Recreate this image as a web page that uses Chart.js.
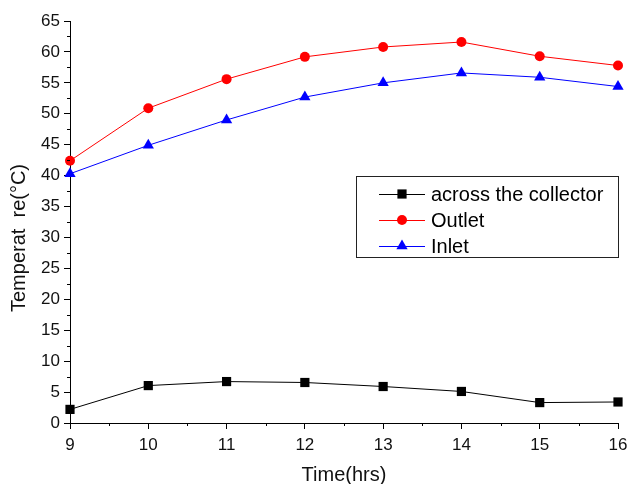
<!DOCTYPE html>
<html>
<head>
<meta charset="utf-8">
<script src="https://cdn.jsdelivr.net/npm/chart.js@4/dist/chart.umd.min.js"></script>
<style>
  html, body { margin: 0; padding: 0; background: #fff; }
  #wrap { width: 628px; height: 484px; }
</style>
</head>
<body>
<div id="wrap"><canvas id="chart" width="628" height="484"></canvas></div>
<script>
const hours = [9, 10, 11, 12, 13, 14, 15, 16];
const acrossCollector = [2.2, 6.05, 6.7, 6.55, 5.9, 5.1, 3.3, 3.4];
const outlet = [42.4, 50.9, 55.6, 59.2, 60.8, 61.6, 59.3, 57.8];
const inlet = [40.3, 44.9, 49.0, 52.7, 55.0, 56.6, 55.9, 54.4];
const yTicks = [0, 5, 10, 15, 20, 25, 30, 35, 40, 45, 50, 55, 60, 65];
const xTitle = 'Time(hrs)';
const yTitle = 'Temperat  re(°C)';

const FONT = '"Liberation Sans", Arial, sans-serif';

const toPoints = values => hours.map((h, i) => ({ x: h, y: values[i] }));

const series = [
  { label: 'across the collector', data: acrossCollector, color: '#000000', style: 'rect', radius: 6.5 },
  { label: 'Outlet', data: outlet, color: '#ff0000', style: 'circle', radius: 5 },
  { label: 'Inlet', data: inlet, color: '#0000ff', style: 'triangle', radius: 6.5 },
];

// minor ticks half way between the major ones, drawn outward like Origin does
const minorTicks = {
  id: 'minor_ticks',
  afterDraw: chart => {
    const ctx = chart.ctx;
    const x = chart.scales.x;
    const y = chart.scales.y;
    ctx.save();
    ctx.strokeStyle = '#000';
    ctx.lineWidth = 1;
    ctx.beginPath();
    for (let i = 0; i < hours.length - 1; i++) {
      const px = Math.round(x.getPixelForValue((hours[i] + hours[i + 1]) / 2)) + 0.5;
      ctx.moveTo(px, y.bottom);
      ctx.lineTo(px, y.bottom + 3);
    }
    for (let i = 0; i < yTicks.length - 1; i++) {
      const py = Math.round(y.getPixelForValue((yTicks[i] + yTicks[i + 1]) / 2)) + 0.5;
      ctx.moveTo(x.left, py);
      ctx.lineTo(x.left - 3, py);
    }
    ctx.stroke();
    ctx.restore();
  },
};

// axis titles, placed by hand (the y one sits a bit below the middle)
const axisTitles = {
  id: 'axis_titles',
  afterDraw: chart => {
    const ctx = chart.ctx;
    const area = chart.chartArea;
    ctx.save();
    ctx.fillStyle = '#111';
    ctx.font = `20px ${FONT}`;
    ctx.textAlign = 'center';
    ctx.textBaseline = 'alphabetic';
    ctx.fillText(xTitle, (area.left + area.right) / 2, 481);
    ctx.translate(25, 238);
    ctx.rotate(-Math.PI / 2);
    ctx.fillText(yTitle, 0, 0);
    ctx.restore();
  },
};

// boxed legend inside the plot
const boxLegend = {
  id: 'box_legend',
  afterDraw: chart => {
    const ctx = chart.ctx;
    const left = 356, top = 176, width = 262, height = 81;
    ctx.save();
    ctx.fillStyle = '#fff';
    ctx.fillRect(left, top, width, height);
    ctx.strokeStyle = '#222';
    ctx.lineWidth = 1;
    ctx.strokeRect(left + 0.5, top + 0.5, width, height);
    ctx.font = `20px ${FONT}`;
    ctx.textBaseline = 'middle';
    series.forEach((s, i) => {
      const cy = top + 18 + i * 26;
      ctx.strokeStyle = s.color;
      ctx.beginPath();
      ctx.moveTo(379, cy + 0.5);
      ctx.lineTo(425, cy + 0.5);
      ctx.stroke();
      ctx.fillStyle = s.color;
      Chart.helpers.drawPoint(ctx, { pointStyle: s.style, radius: s.radius, borderWidth: 0 }, 402, cy);
      ctx.fillStyle = '#000';
      ctx.fillText(s.label, 431, cy + 1);
    });
    ctx.restore();
  },
};

new Chart(document.getElementById('chart'), {
  type: 'line',
  data: {
    datasets: series.map(s => ({
      label: s.label,
      data: toPoints(s.data),
      borderColor: s.color,
      backgroundColor: s.color,
      borderWidth: 1,
      pointStyle: s.style,
      pointRadius: s.radius,
      pointBorderWidth: 0,
      pointBackgroundColor: s.color,
      tension: 0,
      clip: false,
    })),
  },
  plugins: [minorTicks, axisTitles, boxLegend],
  options: {
    responsive: false,
    animation: false,
    layout: {
      padding: { top: 21, right: 10, left: 0, bottom: 0 },
    },
    plugins: {
      legend: { display: false },
      tooltip: { enabled: false },
    },
    scales: {
      x: {
        type: 'linear',
        min: 9,
        max: 16,
        afterFit: scale => {
          scale.height = 61;
          scale.paddingLeft = 0;
          scale.paddingRight = 0;
        },
        border: { display: true, color: '#000', width: 1 },
        grid: {
          drawOnChartArea: false,
          drawTicks: true,
          tickLength: 6,
          color: '#000',
        },
        ticks: {
          stepSize: 1,
          padding: 6,
          color: '#111',
          font: { size: 17, family: FONT },
        },
      },
      y: {
        type: 'linear',
        min: 0,
        max: 65,
        afterFit: scale => {
          scale.width = 70;
          scale.paddingTop = 0;
          scale.paddingBottom = 0;
        },
        border: { display: true, color: '#000', width: 1 },
        grid: {
          drawOnChartArea: false,
          drawTicks: true,
          tickLength: 6,
          color: '#000',
        },
        ticks: {
          stepSize: 5,
          padding: 4,
          color: '#111',
          font: { size: 17, family: FONT },
        },
      },
    },
  },
});
</script>
</body>
</html>
